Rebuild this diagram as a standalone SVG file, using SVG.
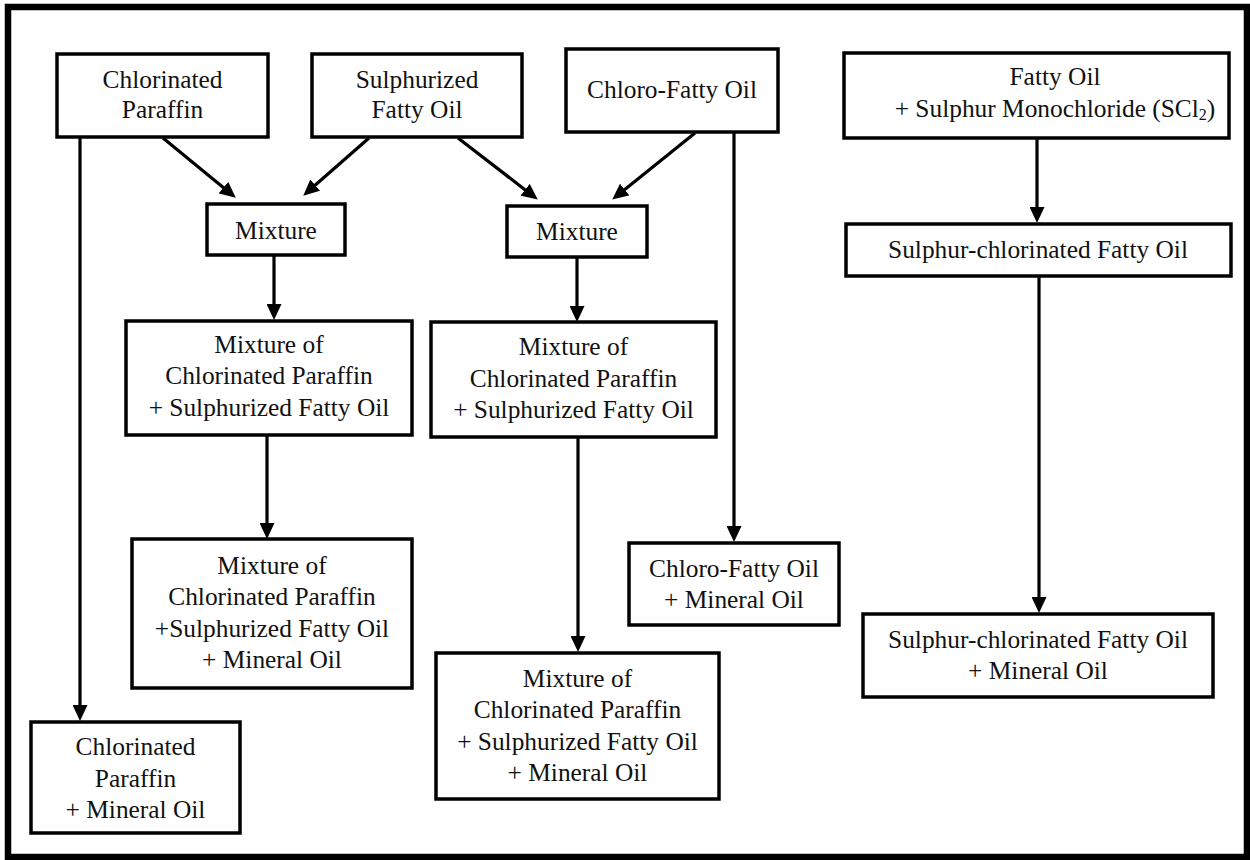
<svg xmlns="http://www.w3.org/2000/svg" width="1250" height="860" viewBox="0 0 1250 860">
<style>
.box{fill:#fff;stroke:#000;stroke-width:3.5}
.t{font-family:"Liberation Serif","Times New Roman",serif;font-size:25.4px;fill:#111;text-anchor:middle}
.c{stroke:#000;stroke-width:3.2;fill:none;marker-end:url(#ah)}
</style>
<defs>
<marker id="ah" markerUnits="userSpaceOnUse" markerWidth="16" markerHeight="15" viewBox="0 0 16 15" refX="1" refY="7.5" orient="auto">
<path d="M0,0 L16,7.5 L0,15 z" fill="#000"/>
</marker>
</defs>
<rect x="0" y="0" width="1250" height="860" fill="#fff"/>
<rect x="8" y="7" width="1239" height="850" fill="none" stroke="#000" stroke-width="6.5"/>

<g id="connectors">
<line class="c" x1="80" y1="137" x2="80" y2="706"/>
<line class="c" x1="163" y1="138" x2="224.2" y2="188.2"/>
<line class="c" x1="369" y1="138" x2="314.5" y2="185.8"/>
<line class="c" x1="458" y1="138" x2="525.9" y2="190.4"/>
<line class="c" x1="695" y1="133" x2="623.9" y2="190.2"/>
<line class="c" x1="274" y1="255" x2="274" y2="305"/>
<line class="c" x1="267" y1="435" x2="267" y2="524"/>
<line class="c" x1="577" y1="257" x2="577" y2="307"/>
<line class="c" x1="578" y1="437" x2="578" y2="637"/>
<line class="c" x1="734" y1="132" x2="734" y2="527"/>
<line class="c" x1="1037" y1="138" x2="1037" y2="208"/>
<line class="c" x1="1039" y1="276" x2="1039" y2="598"/>
</g>

<g id="n-chlorinated-paraffin">
<rect class="box" x="57" y="54" width="211" height="83"/>
<text class="t" x="162.5" y="88">Chlorinated</text>
<text class="t" x="162.5" y="118">Paraffin</text>
</g>
<g id="n-sulphurized-fatty-oil">
<rect class="box" x="312" y="54" width="210" height="83"/>
<text class="t" x="417" y="88">Sulphurized</text>
<text class="t" x="417" y="118">Fatty Oil</text>
</g>
<g id="n-chloro-fatty-oil">
<rect class="box" x="566" y="49" width="212" height="83"/>
<text class="t" x="672" y="98">Chloro-Fatty Oil</text>
</g>
<g id="n-fatty-oil-scl2">
<rect class="box" x="844" y="53" width="385" height="85"/>
<text class="t" x="1055" y="85">Fatty Oil</text>
<text class="t" x="1055" y="117">+ Sulphur Monochloride (SCl<tspan font-size="16" dy="3">2</tspan><tspan dy="-3">)</tspan></text>
</g>
<g id="n-mixture-1">
<rect class="box" x="207" y="204" width="138" height="51"/>
<text class="t" x="276" y="239">Mixture</text>
</g>
<g id="n-mixture-2">
<rect class="box" x="507" y="206" width="140" height="51"/>
<text class="t" x="577" y="240">Mixture</text>
</g>
<g id="n-sulphur-chlorinated">
<rect class="box" x="846" y="224" width="385" height="52"/>
<text class="t" x="1038" y="258">Sulphur-chlorinated Fatty Oil</text>
</g>
<g id="n-mix-cp-sfo-1">
<rect class="box" x="126" y="321" width="286" height="114"/>
<text class="t" x="269" y="353">Mixture of</text>
<text class="t" x="269" y="384">Chlorinated Paraffin</text>
<text class="t" x="269" y="416">+ Sulphurized Fatty Oil</text>
</g>
<g id="n-mix-cp-sfo-2">
<rect class="box" x="431" y="322" width="285" height="115"/>
<text class="t" x="573.5" y="355">Mixture of</text>
<text class="t" x="573.5" y="387">Chlorinated Paraffin</text>
<text class="t" x="573.5" y="418">+ Sulphurized Fatty Oil</text>
</g>
<g id="n-mix-cp-sfo-mo-1">
<rect class="box" x="132" y="539" width="280" height="149"/>
<text class="t" x="272" y="574">Mixture of</text>
<text class="t" x="272" y="605">Chlorinated Paraffin</text>
<text class="t" x="272" y="637">+Sulphurized Fatty Oil</text>
<text class="t" x="272" y="668">+ Mineral Oil</text>
</g>
<g id="n-chloro-fatty-mineral">
<rect class="box" x="629" y="543" width="210" height="82"/>
<text class="t" x="734" y="577">Chloro-Fatty Oil</text>
<text class="t" x="734" y="608">+ Mineral Oil</text>
</g>
<g id="n-mix-cp-sfo-mo-2">
<rect class="box" x="436" y="653" width="283" height="146"/>
<text class="t" x="577.5" y="687">Mixture of</text>
<text class="t" x="577.5" y="718">Chlorinated Paraffin</text>
<text class="t" x="577.5" y="750">+ Sulphurized Fatty Oil</text>
<text class="t" x="577.5" y="781">+ Mineral Oil</text>
</g>
<g id="n-sc-mineral">
<rect class="box" x="863" y="614" width="350" height="83"/>
<text class="t" x="1038" y="648">Sulphur-chlorinated Fatty Oil</text>
<text class="t" x="1038" y="679">+ Mineral Oil</text>
</g>
<g id="n-cp-mineral">
<rect class="box" x="31" y="722" width="209" height="111"/>
<text class="t" x="135.5" y="755">Chlorinated</text>
<text class="t" x="135.5" y="787">Paraffin</text>
<text class="t" x="135.5" y="818">+ Mineral Oil</text>
</g>
</svg>
